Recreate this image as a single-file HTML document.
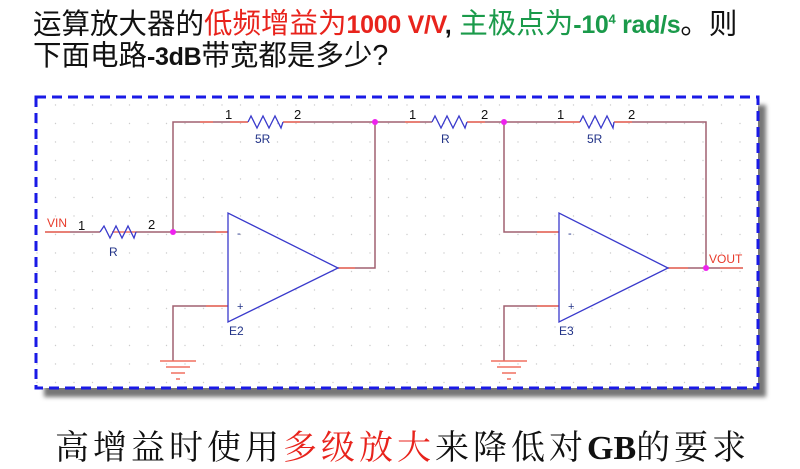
<!DOCTYPE html>
<html><head><meta charset="utf-8"><style>
body{margin:0;width:800px;height:467px;background:#fff;position:relative;overflow:hidden;font-family:"Liberation Sans","Noto Sans CJK SC",sans-serif}
.t{position:absolute;left:33px;font-size:28.5px;line-height:34px;white-space:nowrap;color:#111}
.b{font-weight:bold;font-size:25px;letter-spacing:-0.3px}
.r{color:#e8231c}.g{color:#1a9a4a}
.bot{position:absolute;left:55px;top:420px;font-family:"Liberation Serif","Noto Serif CJK SC",serif;font-size:34px;letter-spacing:4px;white-space:nowrap;color:#111}
</style></head><body>
<div class="t" style="top:3px">运算放大器的<span class="r">低频增益为<span class="b">1000 V/V</span></span><span class="b">,</span> <span class="g">主极点为<span class="b">-10<sup style="font-size:13px">4</sup> rad/s</span></span>。则</div>
<div class="t" style="top:39px">下面电路<span class="b">-3dB</span>带宽都是多少?</div>
<svg width="800" height="467" style="position:absolute;left:0;top:0" font-family="Liberation Sans,sans-serif">
<defs><pattern id="gd" width="18.5" height="18.5" patternUnits="userSpaceOnUse" x="36" y="104"><circle cx="1" cy="1" r="0.7" fill="#ccc"/></pattern>
<filter id="bl"><feGaussianBlur stdDeviation="2"/></filter></defs>
<rect x="44" y="105" width="722" height="292" fill="#777" filter="url(#bl)"/>
<rect x="36" y="97" width="722" height="291" fill="#fff"/>
<rect x="36" y="97" width="722" height="291" fill="url(#gd)"/>
<rect x="36" y="97" width="722" height="291" fill="none" stroke="#1a1ae6" stroke-width="3" stroke-dasharray="10,6"/>
<g stroke="#a06070" stroke-width="1.5" fill="none">
<path d="M45 232H100M136 232H228M173 232V122H248M283 122H432M467 122H580M614 122H706V268H743M338 268H375V122M504 122V232H559M228 306H173V361M559 306H504V361M668 268H706"/>
</g>
<g stroke="#f07060" stroke-width="1.5">
<path d="M45 232H70M112 232H136M216 232H228M206 306H228M200 122H213M230 122H248M283 122H300M405 122H420M467 122H485M560 122H580M614 122H632M338 268H355M537 232H559M537 306H559M668 268H688M720 268H743"/>
<path d="M160 361h36M166 367h24M171 373h14M176 379h4M491 361h36M497 367h24M502 373h14M507 379h4"/>
</g>
<g stroke="#3a3acc" stroke-width="1.3" fill="none">
<path d="M100 232l4-6 6 12 6-12 6 12 6-12 6 12 2-6"/>
<path d="M248 122l3-6 6 12 6-12 6 12 6-12 6 12 2-6"/>
<path d="M432 122l3-6 6 12 6-12 6 12 6-12 6 12 2-6"/>
<path d="M580 122l3-6 6 12 6-12 6 12 6-12 6 12 1-6"/>
<path d="M228 213V322L338 268Z"/><path d="M559 213V322L668 268Z"/>
</g>
<g fill="#ee22ee"><circle cx="173" cy="232" r="3"/><circle cx="375" cy="122" r="3"/><circle cx="504" cy="122" r="3"/><circle cx="706" cy="268" r="3"/></g>
<g font-size="13" fill="#111">
<text x="78" y="230">1</text><text x="148" y="229">2</text>
<text x="225" y="119">1</text><text x="294" y="119">2</text>
<text x="409" y="119">1</text><text x="481" y="119">2</text>
<text x="557" y="119">1</text><text x="628" y="119">2</text>
</g>
<g font-size="12" fill="#223388">
<text x="109" y="256">R</text><text x="255" y="143">5R</text><text x="441" y="143">R</text><text x="587" y="143">5R</text>
<text x="229" y="335">E2</text><text x="559" y="335">E3</text>
<text x="237" y="237" font-size="11">-</text><text x="237" y="310" font-size="11">+</text>
<text x="568" y="237" font-size="11">-</text><text x="568" y="310" font-size="11">+</text>
</g>
<g font-size="12" fill="#e83a2a"><text x="47" y="227">VIN</text><text x="709" y="263">VOUT</text></g>
</svg>
<div class="bot">高增益时使用<span style="color:#e8231c">多级放大</span>来降低对<b style="letter-spacing:0">GB</b>的要求</div>
</body></html>
